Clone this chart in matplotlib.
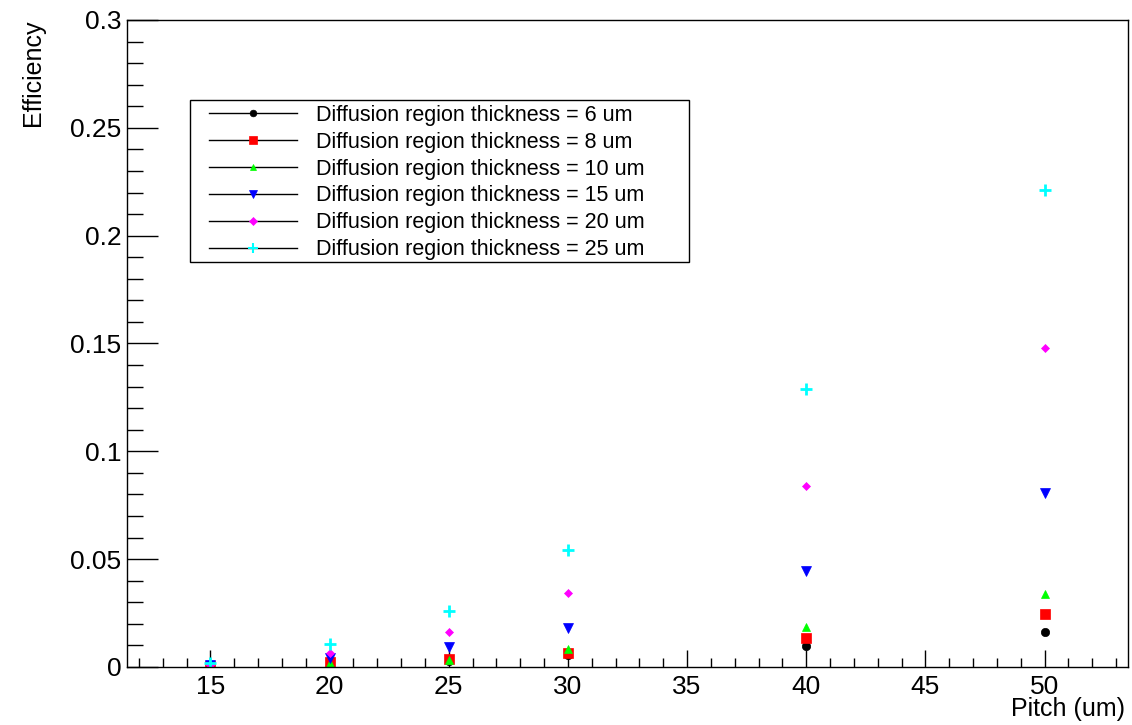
import matplotlib
matplotlib.use("Agg")
import matplotlib.pyplot as plt
from matplotlib.lines import Line2D
from matplotlib.patches import Rectangle
import numpy as np

plt.rcParams['font.family'] = ['Liberation Sans', 'DejaVu Sans']

pitch = [15, 20, 25, 30, 40, 50]
eff_6um = [0.0005, 0.0010, 0.0030, 0.0055, 0.0097, 0.0161]
eff_8um = [0.0005, 0.0022, 0.0037, 0.0066, 0.0133, 0.0245]
eff_10um = [0.0005, 0.0017, 0.0032, 0.0083, 0.0187, 0.0337]
eff_15um = [0.0008, 0.0040, 0.0091, 0.0182, 0.0446, 0.0807]
eff_20um = [0.0010, 0.0063, 0.0162, 0.0341, 0.0840, 0.1478]
eff_25um = [0.0020, 0.0105, 0.0259, 0.0541, 0.1290, 0.2212]

labels = ["Diffusion region thickness = 6 um",
          "Diffusion region thickness = 8 um",
          "Diffusion region thickness = 10 um",
          "Diffusion region thickness = 15 um",
          "Diffusion region thickness = 20 um",
          "Diffusion region thickness = 25 um"]
colors = ['#000000', '#ff0000', '#00ff00', '#0000ff', '#ff00ff', '#00ffff']
markers = ['o', 's', '^', 'v', 'D', '+']
msizes = [6, 6.5, 6, 7, 4.5, 9]

yticks = [0, 0.05, 0.1, 0.15, 0.2, 0.25, 0.3]
ytick_labels = ['0', '0.05', '0.1', '0.15', '0.2', '0.25', '0.3']
xticks = [15, 20, 25, 30, 35, 40, 45, 50]

series = [eff_6um, eff_8um, eff_10um, eff_15um, eff_20um, eff_25um]

fig = plt.figure(figsize=(11.32, 7.25), dpi=100)
ax = fig.add_axes([127/1132, 58/725, 1001/1132, 647/725])

handles = []
for y, c, m, s, lab in zip(series, colors, markers, msizes, labels):
    ax.plot(pitch, y, linestyle='none', marker=m, color=c, markersize=s,
            markeredgewidth=2 if m == '+' else 0.5, markeredgecolor=c)
    handles.append(Line2D([0], [0], color='black', lw=1, marker=m,
                          markerfacecolor=c, markeredgecolor=c,
                          markersize=s * 0.8, markeredgewidth=(1.5 if m == '+' else 0.5),
                          label=lab))

ax.set_xlim(11.5, 53.5)
ax.set_ylim(0, 0.3)
ax.set_xticks(xticks)
ax.set_xticklabels([str(v) for v in xticks])
ax.set_xticks(np.arange(12, 54, 1), minor=True)
ax.set_yticks(yticks)
ax.set_yticklabels(ytick_labels)
ax.set_yticks(np.arange(0, 0.3001, 0.01), minor=True)

ax.tick_params(axis='x', which='major', direction='in', length=12, width=1, labelsize=19, pad=6)
ax.tick_params(axis='x', which='minor', direction='in', length=6.5, width=1)
ax.tick_params(axis='y', which='major', direction='in', length=22, width=1, labelsize=19, pad=4)
ax.tick_params(axis='y', which='minor', direction='in', length=11.5, width=1)
for sp in ax.spines.values():
    sp.set_linewidth(1)

ax.set_xlabel('Pitch (um)', fontsize=18, ha='right', va='center')
ax.xaxis.set_label_coords((1125 - 127) / 1001, -(709 - 667) / 647)
ax.set_ylabel('Efficiency', fontsize=18, ha='right', va='center')
ax.yaxis.set_label_coords(-(127 - 33) / 1001, 1.0)

# legend frame (ROOT-style box wider than its contents)
ax.add_patch(Rectangle(((190 - 127) / 1001, (667 - 262) / 647), 499 / 1001, 162 / 647,
                       transform=ax.transAxes, facecolor='white', edgecolor='black',
                       linewidth=1, zorder=4))
leg = ax.legend(handles=handles, loc='upper left',
                bbox_to_anchor=((209 - 127) / 1001, (667 - 105) / 647),
                borderaxespad=0, fontsize=15.5, frameon=False,
                handlelength=4.09, handletextpad=0.88,
                labelspacing=0.27, borderpad=0)
leg.set_zorder(5)

fig.savefig('out.png', dpi=100)
